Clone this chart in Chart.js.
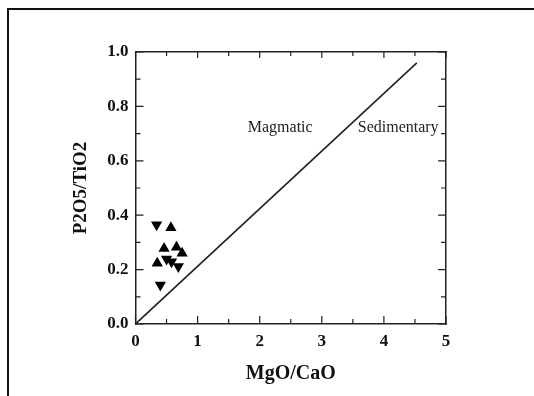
<!DOCTYPE html>
<html>
<head>
<meta charset="utf-8">
<script src="https://cdn.jsdelivr.net/npm/chart.js@4/dist/chart.umd.min.js"></script>
<style>
    html, body { margin: 0; padding: 0; background: #fff; }
    #wrap { position: relative; width: 534px; height: 396px; }
    #frame { position: absolute; left: 7px; top: 8px; right: 0; bottom: 0;
             border-left: 2px solid #111; border-top: 2px solid #111; pointer-events: none; }
</style>
</head>
<body>
<div id="wrap">
    <canvas id="chart" width="534" height="396"></canvas>
    <div id="frame"></div>
</div>
<script>
// MgO/CaO vs P2O5/TiO2
const upX = [0.57, 0.46, 0.66, 0.75, 0.35];
const upY = [0.354, 0.278, 0.282, 0.26, 0.223];
const downX = [0.34, 0.50, 0.58, 0.69, 0.40];
const downY = [0.365, 0.239, 0.229, 0.211, 0.143];
const lineX = [0, 4.53];
const lineY = [0, 0.96];
const fieldLabels = ['Magmatic', 'Sedimentary'];
const fieldX = [2.33, 4.23];
const fieldY = [0.72, 0.72];

const serif = "'Liberation Serif', 'Times New Roman', serif";

function toPoints(xs, ys) {
    return xs.map((x, i) => ({ x: x, y: ys[i] }));
}

// inside ticks on all four sides, plus the field labels
const decorations = {
    id: 'decorations',
    afterDatasetsDraw(chart) {
        const ctx = chart.ctx;
        const a = chart.chartArea;
        const xs = chart.scales.x, ys = chart.scales.y;
        ctx.save();
        ctx.strokeStyle = '#222';
        ctx.lineWidth = 1.2;
        for (let i = 0; i <= 10; i++) {
            const v = i * 0.5;
            const px = xs.getPixelForValue(v);
            const len = i % 2 === 0 ? 8 : 5;
            ctx.beginPath();
            ctx.moveTo(px, a.bottom); ctx.lineTo(px, a.bottom - len);
            ctx.moveTo(px, a.top); ctx.lineTo(px, a.top + (i % 2 === 0 ? 6 : 4));
            ctx.stroke();
        }
        for (let i = 0; i <= 10; i++) {
            const v = i * 0.1;
            const py = ys.getPixelForValue(v);
            const len = i % 2 === 0 ? 8 : 5;
            ctx.beginPath();
            ctx.moveTo(a.left, py); ctx.lineTo(a.left + len, py);
            ctx.moveTo(a.right, py); ctx.lineTo(a.right - len, py);
            ctx.stroke();
        }
        ctx.fillStyle = '#222';
        ctx.font = '16px ' + serif;
        ctx.textAlign = 'center';
        ctx.textBaseline = 'middle';
        fieldLabels.forEach((t, i) => {
            ctx.fillText(t, xs.getPixelForValue(fieldX[i]), ys.getPixelForValue(fieldY[i]));
        });
        ctx.restore();
    }
};

new Chart(document.getElementById('chart'), {
    type: 'scatter',
    data: {
        datasets: [{
            label: 'line',
            data: toPoints(lineX, lineY),
            showLine: true,
            borderColor: '#222',
            borderWidth: 1.6,
            pointRadius: 0
        }, {
            label: 'up',
            data: toPoints(upX, upY),
            pointStyle: 'triangle',
            pointRadius: 6.5,
            backgroundColor: '#000',
            borderColor: '#000',
            borderWidth: 0
        }, {
            label: 'down',
            data: toPoints(downX, downY),
            pointStyle: 'triangle',
            rotation: 180,
            pointRadius: 6.5,
            backgroundColor: '#000',
            borderColor: '#000',
            borderWidth: 0
        }]
    },
    options: {
        responsive: false,
        animation: false,
        layout: { padding: { top: 52, right: 88, left: 0, bottom: 0 } },
        plugins: { legend: { display: false }, tooltip: { enabled: false } },
        scales: {
            x: {
                type: 'linear', position: 'bottom', min: 0, max: 5,
                afterFit: s => { s.height = 72; },
                grid: { display: false, drawTicks: false },
                border: { display: true, color: '#222', width: 1.5 },
                ticks: {
                    stepSize: 1, padding: 7, color: '#111',
                    font: { family: serif, size: 17, weight: 'bold' }
                },
                title: {
                    display: true, text: 'MgO/CaO', color: '#111',
                    font: { family: serif, size: 20, weight: 'bold' },
                    padding: { top: 0, bottom: 10 }
                }
            },
            y: {
                type: 'linear', position: 'left', min: 0, max: 1,
                afterFit: s => { s.width = 135.5; },
                grid: { display: false, drawTicks: false },
                border: { display: true, color: '#222', width: 1.5 },
                ticks: {
                    stepSize: 0.2, padding: 7, color: '#111',
                    font: { family: serif, size: 17, weight: 'bold' },
                    callback: v => v.toFixed(1)
                },
                title: {
                    display: true, text: 'P2O5/TiO2', color: '#111',
                    font: { family: serif, size: 19, weight: 'bold' },
                    padding: { top: 70, bottom: 0 }
                }
            },
            x2: {
                type: 'linear', position: 'top', min: 0, max: 5,
                afterFit: s => { s.height = 0; },
                grid: { display: false, drawTicks: false },
                border: { display: true, color: '#222', width: 1.5 },
                ticks: { display: false }
            },
            y2: {
                type: 'linear', position: 'right', min: 0, max: 1,
                afterFit: s => { s.width = 0; },
                grid: { display: false, drawTicks: false },
                border: { display: true, color: '#222', width: 1.5 },
                ticks: { display: false }
            }
        }
    },
    plugins: [decorations]
});
</script>
</body>
</html>
